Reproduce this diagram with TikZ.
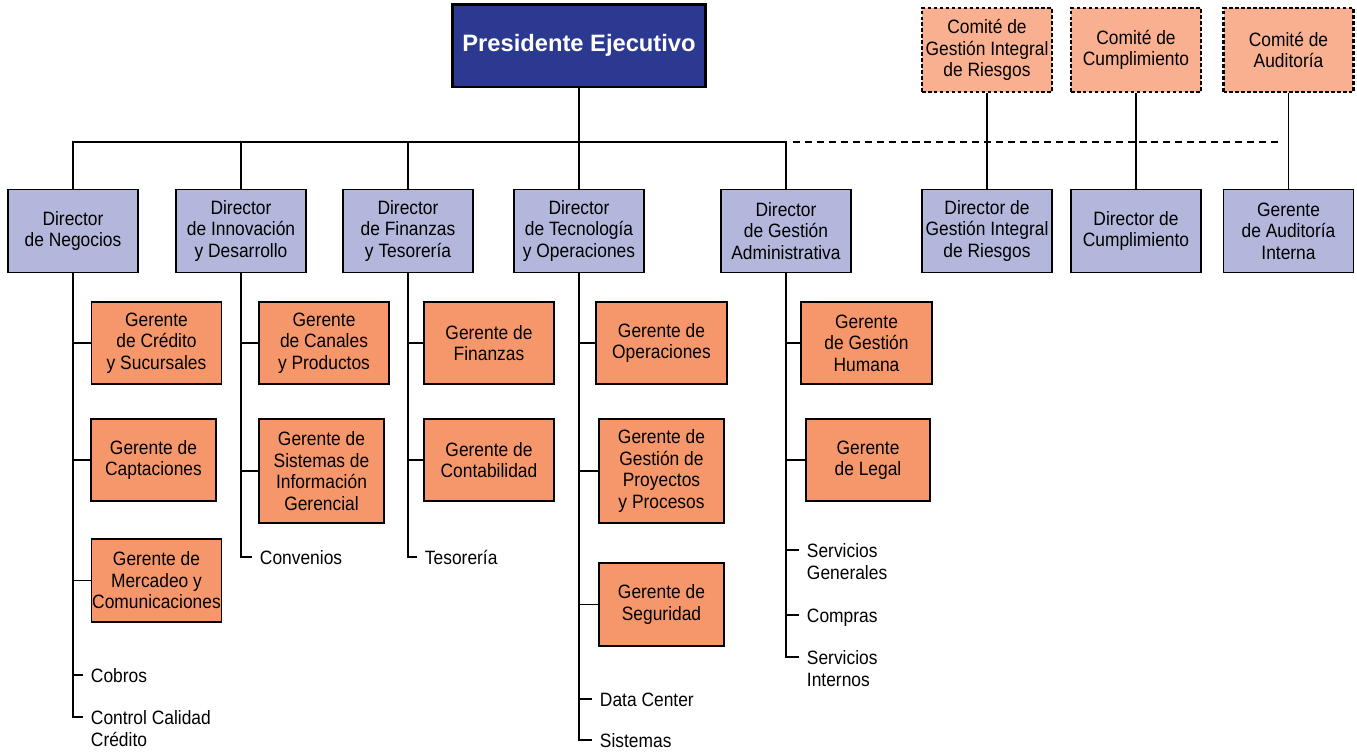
\documentclass[tikz,border=0pt]{standalone}
\usepackage{fontspec}
\setmainfont{Liberation Sans}[FakeStretch=0.9]
\newfontfamily\presfont{Liberation Sans}

\definecolor{presblue}{RGB}{43,57,144}
\definecolor{dirblue}{RGB}{179,183,219}
\definecolor{gerorange}{RGB}{245,151,106}
\definecolor{comorange}{RGB}{248,176,145}

\begin{document}
\begin{tikzpicture}[x=0.02cm, y=-0.02cm, line width=1.1pt,
	box/.style={draw, align=center, inner sep=0pt, font=\fontsize{11}{12.2}\selectfont},
	presidente/.style={box, fill=presblue, text=white, line width=1.7pt,
		minimum width=5.08cm, minimum height=1.66cm,
		font=\presfont\bfseries\fontsize{13.5}{16}\selectfont},
	director/.style={box, fill=dirblue, minimum width=2.6cm, minimum height=1.66cm},
	comite/.style={box, fill=comorange, line width=1.4pt, dash pattern=on 2pt off 1.4pt,
		minimum width=2.6cm, minimum height=1.68cm},
	gerente/.style={box, fill=gerorange},
	sub/.style={anchor=base west, align=left, inner xsep=0.14cm,
		font=\fontsize{11}{12.5}\selectfont},
	bus dashed/.style={dash pattern=on 4pt off 2.8pt}]

		\useasboundingbox (0,0) rectangle (1357,754);

		% draw nodes
			% presidente
			\node [presidente] (pres) at (579,45.5) {Presidente Ejecutivo};
			\coordinate (bus) at (579,142);

			% directores
			\foreach \x/\t [count=\i] in {73/{Director\\de Negocios},
				241/{Director\\de Innovación\\y Desarrollo},
				408/{Director\\de Finanzas\\y Tesorería},
				579/{Director\\de Tecnología\\y Operaciones},
				786/{Director\\de Gestión\\Administrativa},
				987/{Director de\\Gestión Integral\\de Riesgos},
				1136/{Director de\\Cumplimiento},
				1288.5/{Gerente\\de Auditoría\\Interna}}
			\node [director] (dir-\i) at (\x,231) {\t};

			% comites
			\foreach \x/\t [count=\i from 6] in {987/{Comité de\\Gestión Integral\\de Riesgos},
				1136/{Comité de\\Cumplimiento},
				1288.5/{Comité de\\Auditoría}}
			\node [comite] (com-\i) at (\x,50) {\t};

			% gerentes
			\foreach \c/\x/\y/\w/\h/\t [count=\i] in {
				1/156.5/343/130/82/{Gerente\\de Crédito\\y Sucursales},
				1/153.5/460/125/82/{Gerente de\\Captaciones},
				1/156.5/580.5/130/83/{Gerente de\\Mercadeo y\\Comunicaciones},
				2/324/343/130/82/{Gerente\\de Canales\\y Productos},
				2/321.5/471/125/104/{Gerente de\\Sistemas de\\Información\\Gerencial},
				3/489/343/130/82/{Gerente de\\Finanzas},
				3/489/460/130/82/{Gerente de\\Contabilidad},
				4/661.5/343/131/82/{Gerente de\\Operaciones},
				4/661.5/471/125/104/{Gerente de\\Gestión de\\Proyectos\\y Procesos},
				4/661.5/604.5/125/83/{Gerente de\\Seguridad},
				5/866.5/343/131/82/{Gerente\\de Gestión\\Humana},
				5/868/460/124/82/{Gerente\\de Legal}}
			{
			\node [gerente, minimum width=\w*0.02cm, minimum height=\h*0.02cm] (ger-\i) at (\x,\y) {\t};
			\draw (dir-\c.south |- ger-\i.west) -- (ger-\i.west);
			}

			% areas sin gerente (\n = lines below the first one)
			\foreach \c/\x/\y/\n/\t [count=\i] in {
				1/83/682/0/Cobros,
				1/83/746/1/{Control Calidad\\Crédito},
				2/252/564/0/Convenios,
				3/417/564/0/Tesorería,
				4/592/706/0/Data Center,
				4/592/747/0/Sistemas,
				5/799/579/1/{Servicios\\Generales},
				5/799/622/0/Compras,
				5/799/686/1/{Servicios\\Internos}}
			{
			\node [sub] (sub-\i) at (\x,\y) {\t};
			\coordinate (tick-\i) at ([yshift=.14cm+\n*12.5pt]sub-\i.base west);
			\draw (dir-\c.south |- tick-\i) -- (tick-\i);
			}

		% lines from presidente to directores
		\draw (pres) -- (dir-4);
		\draw (dir-1.north) -- (dir-1.north |- bus) -- (dir-5.north |- bus) -- (dir-5.north);
		\foreach \i in {2,3}
			\draw (dir-\i.north |- bus) -- (dir-\i.north);
		\draw [bus dashed] ([xshift=0.14cm]dir-5.north |- bus) -- (1280,142);

		% lines from comites to directores
		\foreach \i in {6,7,8}
			\draw (com-\i) -- (dir-\i);

		% spines down to the last area
		\foreach \c/\s in {1/2, 2/3, 3/4, 4/6, 5/9}
			\draw (dir-\c.south) |- (tick-\s);

\end{tikzpicture}
\end{document}
